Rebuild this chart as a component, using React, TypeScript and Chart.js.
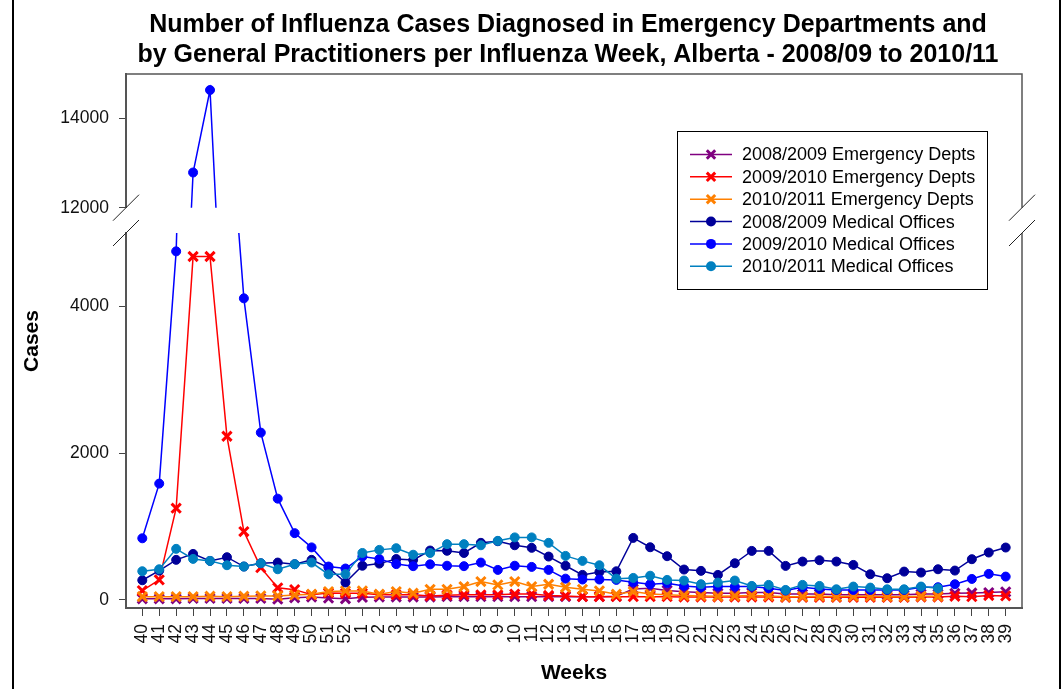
import { useEffect, useRef } from 'react';
import { Chart, registerables } from 'chart.js';

Chart.register(...registerables);

// ---------------- DATA ----------------
const weeks = [
  '40', '41', '42', '43', '44', '45', '46', '47', '48', '49', '50', '51', '52',
  '1', '2', '3', '4', '5', '6', '7', '8', '9', '10', '11', '12', '13',
  '14', '15', '16', '17', '18', '19', '20', '21', '22', '23', '24', '25', '26',
  '27', '28', '29', '30', '31', '32', '33', '34', '35', '36', '37', '38', '39',
];

const ed0809 = [
  15, 15, 15, 20, 20, 20, 20, 20, 10, 30, 40, 25, 15,
  35, 40, 40, 40, 40, 45, 45, 45, 45, 45, 45, 45, 45,
  45, 45, 50, 150, 160, 130, 110, 100, 90, 90, 100, 100, 80,
  80, 80, 70, 70, 70, 70, 70, 80, 80, 90, 95, 100, 110,
];
const ed0910 = [
  127, 273, 1250, 4680, 4680, 2230, 932, 440, 165, 140, 70, 95, 90,
  90, 70, 70, 70, 55, 65, 70, 70, 70, 80, 80, 60, 55,
  45, 45, 45, 45, 45, 45, 40, 40, 40, 40, 40, 40, 35,
  35, 35, 35, 35, 35, 35, 35, 40, 40, 50, 45, 60, 55,
];
const ed1011 = [
  45, 45, 45, 45, 50, 45, 50, 55, 55, 68, 77, 114, 123,
  123, 77, 114, 91, 145, 145, 182, 250, 205, 250, 182, 214, 173,
  145, 123, 77, 114, 80, 70, 60, 55, 50, 55, 60, 55, 45,
  45, 50, 45, 50, 50, 45, 45, 50, 50, null, null, null, null,
];
const mo0809 = [
  268, 400, 546, 627, 532, 582, 455, 500, 509, 487, 546, 440, 238,
  466, 495, 557, 545, 673, 670, 640, 778, 800, 745, 710, 591, 466,
  341, 380, 390, 845, 718, 596, 414, 396, 341, 500, 668, 668, 464,
  523, 541, 523, 477, 350, 296, 386, 373, 418, 400, 555, 646, 714,
];
const mo0910 = [
  840, 1585, 4750, 12790, 14640, 7100, 4110, 2280, 1380, 910, 716, 455, 428,
  590, 557, 488, 460, 485, 466, 460, 509, 409, 466, 450, 409, 290,
  278, 278, 273, 240, 214, 227, 191, 173, 182, 182, 182, 159, 127,
  173, 150, 136, 136, 136, 136, 136, 173, 173, 214, 286, 355, 318,
];
const mo1011 = [
  391, 418, 696, 559, 532, 473, 455, 500, 418, 487, 509, 348, 352,
  640, 682, 705, 616, 640, 760, 760, 745, 805, 852, 852, 778, 600,
  532, 472, 290, 300, 330, 273, 264, 214, 236, 264, 191, 205, 136,
  205, 191, 145, 182, 168, 145, 145, 182, 159, null, null, null, null,
];

const seriesNames = [
  '2008/2009 Emergency Depts',
  '2009/2010 Emergency Depts',
  '2010/2011 Emergency Depts',
  '2008/2009 Medical Offices',
  '2009/2010 Medical Offices',
  '2010/2011 Medical Offices',
];
const seriesValues = [ed0809, ed0910, ed1011, mo0809, mo0910, mo1011];

const lowTicks = [0, 2000, 4000];
const highTicks = [12000, 14000];
const lowRange = [-110, 5000];
const highRange = [12000, 15000];

const titleLines = [
  'Number of Influenza Cases Diagnosed in Emergency Departments and',
  'by General Practitioners per Influenza Week, Alberta - 2008/09 to 2010/11',
];
const xTitle = 'Weeks';
const yTitle = 'Cases';

// ---------------- STYLE ----------------
const seriesColors = ['#800080', '#FF0000', '#FF8000', '#000099', '#0000FF', '#0080C0'];
const seriesMarkers = ['crossRot', 'crossRot', 'crossRot', 'circle', 'circle', 'circle'];
const FONT = '"Liberation Sans", Arial, Helvetica, sans-serif';
const W = 1064;
const H = 689;

function drawMarker(ctx: CanvasRenderingContext2D, kind: string, x: number, y: number, color: string) {
  ctx.save();
  ctx.strokeStyle = color;
  ctx.fillStyle = color;
  if (kind === 'crossRot') {
    const r = 4.2;
    ctx.lineWidth = 3;
    ctx.beginPath();
    ctx.moveTo(x - r, y - r);
    ctx.lineTo(x + r, y + r);
    ctx.moveTo(x - r, y + r);
    ctx.lineTo(x + r, y - r);
    ctx.stroke();
  } else {
    ctx.beginPath();
    ctx.arc(x, y, 5, 0, Math.PI * 2);
    ctx.fill();
  }
  ctx.restore();
}

const decorPlugin = {
  id: 'decor',
  afterDraw(chart: any) {
    const ctx: CanvasRenderingContext2D = chart.ctx;
    const area = chart.chartArea;
    const yHi = chart.scales.yHi;
    const yLo = chart.scales.yLo;
    ctx.save();

    // outer page frame
    ctx.strokeStyle = '#000';
    ctx.lineWidth = 2;
    ctx.beginPath();
    ctx.moveTo(13, 0);
    ctx.lineTo(13, H);
    ctx.moveTo(1060, 0);
    ctx.lineTo(1060, H);
    ctx.stroke();

    // top and right frame of plot
    ctx.strokeStyle = '#555';
    ctx.lineWidth = 1.5;
    ctx.beginPath();
    ctx.moveTo(area.left, area.top);
    ctx.lineTo(area.right, area.top);
    ctx.lineTo(area.right, yHi.bottom);
    ctx.moveTo(area.right, yLo.top);
    ctx.lineTo(area.right, area.bottom);
    ctx.stroke();

    // axis break marks
    ctx.strokeStyle = '#222';
    ctx.lineWidth = 1;
    const d = 13;
    [area.left, area.right].forEach((bx) => {
      [yHi.bottom, yLo.top].forEach((by) => {
        ctx.beginPath();
        ctx.moveTo(bx - d, by + d);
        ctx.lineTo(bx + d, by - d);
        ctx.stroke();
      });
    });

    // title
    ctx.fillStyle = '#000';
    ctx.font = `bold 25px ${FONT}`;
    ctx.textAlign = 'center';
    ctx.textBaseline = 'middle';
    ctx.fillText(titleLines[0], 568, 25);
    ctx.fillText(titleLines[1], 568, 55);

    // axis titles
    ctx.font = `bold 21px ${FONT}`;
    ctx.fillText(xTitle, (area.left + area.right) / 2, 673);
    ctx.save();
    ctx.translate(32, (area.top + area.bottom) / 2);
    ctx.rotate(-Math.PI / 2);
    ctx.fillText(yTitle, 0, 0);
    ctx.restore();

    // legend
    const lg = { left: 677.5, top: 131.5, right: 987.5, bottom: 289.5 };
    ctx.fillStyle = '#fff';
    ctx.fillRect(lg.left, lg.top, lg.right - lg.left, lg.bottom - lg.top);
    ctx.strokeStyle = '#000';
    ctx.lineWidth = 1;
    ctx.strokeRect(lg.left, lg.top, lg.right - lg.left, lg.bottom - lg.top);
    ctx.font = `18px ${FONT}`;
    ctx.textAlign = 'left';
    seriesNames.forEach((name, k) => {
      const ry = 154.5 + 22.35 * k;
      const c = seriesColors[k];
      ctx.strokeStyle = c;
      ctx.lineWidth = 1.5;
      ctx.beginPath();
      ctx.moveTo(690, ry);
      ctx.lineTo(732, ry);
      ctx.stroke();
      drawMarker(ctx, seriesMarkers[k], 711, ry, c);
      ctx.fillStyle = '#000';
      ctx.fillText(name, 742, ry + 1);
    });

    ctx.restore();
  },
};

export default function App() {
  const ref = useRef<HTMLCanvasElement>(null);

  useEffect(() => {
    if (!ref.current) return;
    const datasets: any[] = [];
    seriesValues.forEach((vals, s) => {
      const color = seriesColors[s];
      const isX = seriesMarkers[s] === 'crossRot';
      ['yLo', 'yHi'].forEach((axis) => {
        datasets.push({
          label: seriesNames[s],
          data: vals.map((v, i) => ({ x: i, y: v })),
          xAxisID: 'x',
          yAxisID: axis,
          borderColor: color,
          backgroundColor: color,
          borderWidth: 1.5,
          pointStyle: seriesMarkers[s],
          pointRadius: isX ? 6.5 : 4.5,
          pointBorderWidth: isX ? 3 : 1,
          pointBackgroundColor: color,
          pointBorderColor: color,
          order: 5 - s,
          clip: 0,
          spanGaps: false,
          tension: 0,
        });
      });
    });

    const tickFont = { family: FONT, size: 17.5 };
    const yCommon = (ticksArr: number[]) => ({
      type: 'linear',
      position: 'left',
      stack: 'y',
      afterBuildTicks: (sc: any) => {
        sc.ticks = ticksArr.map((v) => ({ value: v }));
      },
      afterFit: (sc: any) => {
        sc.width = 126;
      },
      ticks: {
        font: tickFont,
        color: '#111',
        padding: 10,
        callback: (v: any) => String(v),
      },
      grid: { drawOnChartArea: false, drawTicks: true, tickLength: 7, color: '#444', lineWidth: 1 },
      border: { display: true, color: '#555', width: 2 },
    });

    const chart = new Chart(ref.current, {
      type: 'line',
      data: { datasets },
      options: {
        responsive: false,
        animation: false,
        layout: { padding: { top: 74, right: 42, left: 0, bottom: 0 } },
        plugins: { legend: { display: false }, title: { display: false }, tooltip: { enabled: false } },
        scales: {
          x: {
            type: 'linear',
            position: 'bottom',
            min: -0.963,
            max: weeks.length - 1 + 0.963,
            afterBuildTicks: (sc: any) => {
              sc.ticks = weeks.map((_, i) => ({ value: i }));
            },
            afterFit: (sc: any) => {
              sc.height = 81;
            },
            ticks: {
              autoSkip: false,
              minRotation: 90,
              maxRotation: 90,
              padding: 8,
              font: tickFont,
              color: '#111',
              callback: (v: any) => weeks[v] ?? '',
            },
            grid: { drawOnChartArea: false, drawTicks: true, tickLength: 8, color: '#444', lineWidth: 1 },
            border: { display: true, color: '#555', width: 2 },
          },
          yLo: { ...yCommon(lowTicks), min: lowRange[0], max: lowRange[1], stackWeight: 375, weight: 1 },
          yGap: { type: 'linear', position: 'left', stack: 'y', display: false, min: 0, max: 1, stackWeight: 25.3, weight: 2 },
          yHi: { ...yCommon(highTicks), min: highRange[0], max: highRange[1], stackWeight: 133.7, weight: 3 },
        } as any,
      },
      plugins: [decorPlugin],
    } as any);

    return () => chart.destroy();
  }, []);

  return (
    <canvas
      ref={ref}
      width={W}
      height={H}
      style={{ position: 'absolute', left: 0, top: 0, width: W, height: H, display: 'block', background: '#fff' }}
    />
  );
}
